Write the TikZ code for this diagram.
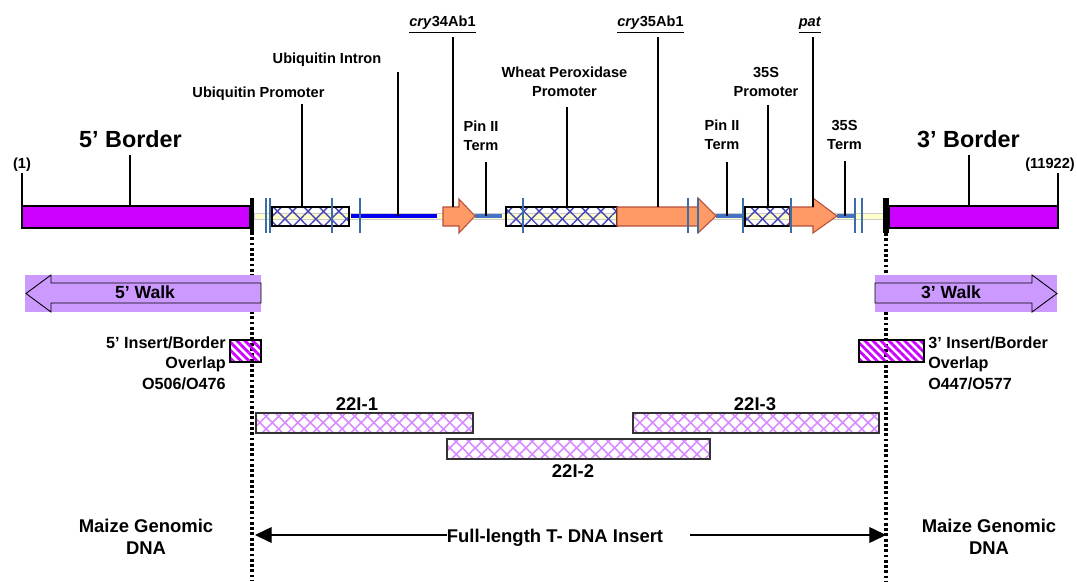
\documentclass[tikz,border=0pt]{standalone}
\usepackage{fontspec}
\setmainfont{Liberation Sans}
\usetikzlibrary{arrows.meta,patterns.meta}

\definecolor{bordermag}{HTML}{CC00FF}
\definecolor{walkfill}{HTML}{CC99FF}
\definecolor{genefill}{HTML}{FF9966}
\definecolor{genedraw}{HTML}{B5503C}
\definecolor{tickblue}{HTML}{3A6EA5}
\definecolor{intronblue}{HTML}{0000F0}
\definecolor{termblue}{HTML}{4472C4}
\definecolor{promhatch}{HTML}{4646B4}
\definecolor{pcrhatch}{HTML}{D88AFF}
\definecolor{backbone}{HTML}{FFFFCC}

\tikzset{
  lbl/.style={font=\bfseries\fontsize{8.3}{10.8}\selectfont, inner sep=0pt, align=center},
  lblbig/.style={font=\bfseries\fontsize{13.3}{16}\selectfont, inner sep=0pt},
  lblwalk/.style={font=\bfseries\fontsize{10}{12}\selectfont, inner sep=0pt},
  lblmid/.style={font=\bfseries\fontsize{10.5}{12.5}\selectfont, inner sep=0pt, align=center},
  lblovl/.style={font=\bfseries\fontsize{9.2}{11.9}\selectfont, inner sep=0pt},
  pin/.style={line width=0.75pt},
  tickmark/.style={tickblue, line width=1.4pt},
  border/.style={draw, line width=1.1pt, fill=bordermag},
  gene/.style={draw=genedraw, line width=0.6pt, fill=genefill},
  xhatch/.style n args={3}{preaction={pattern={Lines[angle=45,distance=#2,line width=#3]}, pattern color=#1},
    pattern={Lines[angle=-45,distance=#2,line width=#3]}, pattern color=#1},
  promoter/.style={draw, line width=0.7pt, xhatch={promhatch}{6.2pt}{0.8pt}},
  pcrbar/.style={draw=black!80, line width=0.7pt, xhatch={pcrhatch}{5.1pt}{0.9pt}},
  overlap/.style={draw, line width=0.7pt, pattern={Lines[angle=-45,distance=3.2pt,line width=1.6pt]}, pattern color=bordermag},
  walkarrow/.style={draw, line width=0.5pt, fill=walkfill},
  dotline/.style={line width=1.8pt, dash pattern=on 1.6pt off 1.4pt},
  insarrow/.style={-{Triangle[length=9.5pt,width=9pt]}, line width=0.6pt},
}

\begin{document}
\begin{tikzpicture}[x=0.02cm, y=-0.02cm]
\useasboundingbox (0,0) rectangle (1077,581);

% dotted insert limits
\coordinate (dotL) at (252,232);
\coordinate (dotR) at (886,233);
\coordinate (botL) at (252,581);
\coordinate (botR) at (886,581);
\draw[dotline] (dotL) -- (botL);
\draw[dotline] (dotR) -- (botR);

% backbone and borders
\draw[fill=backbone, draw=black!20, line width=0.4pt] (254,213) rectangle (883,219);
\draw[border] (22,206) rectangle (250,228);
\draw[border] (889,206) rectangle (1058,228);
\fill (250,198) rectangle (254,232);
\fill (883,198) rectangle (889,233);

% promoters
\draw[promoter] (272,207) rectangle (349,226);
\draw[promoter] (506,207) rectangle (617,226);
\draw[promoter] (745,207) rectangle (790,226);

% intron and terminators
\draw[intronblue, line width=1.8pt] (351,216) -- (437,216);
\draw[termblue, line width=1.9pt] (475,216) -- (502,216);
\draw[termblue, line width=1.9pt] (716,216) -- (743,216);
\draw[termblue, line width=1.9pt] (837,216) -- (855,216);

% genes
\draw[gene] (443,207) -- (459,207) -- (459,199) -- (475,216) -- (459,233) -- (459,226) -- (443,226) -- cycle;
\draw[gene] (617,207) -- (698,207) -- (698,198) -- (716,216) -- (698,233) -- (698,226) -- (617,226) -- cycle;
\draw[gene] (790,207) -- (813,207) -- (813,198) -- (837,216) -- (813,233) -- (813,226) -- (790,226) -- cycle;

% cut sites
\foreach \x in {266,270,332,360,523,688,698,743,791,855,862}
  \draw[tickmark] (\x,198) -- (\x,233);

% map labels
\node[lbl, anchor=base] (lblStart) at (22,168) {(1)};
\node[lblbig, anchor=base] (lblB5) at (130.5,147) {5’ Border};
\node[lbl, anchor=base] (lblUbiP) at (258.5,97) {Ubiquitin Promoter};
\node[lbl, anchor=base] (lblUbiI) at (327,64) {Ubiquitin Intron};
\node[lbl, anchor=base] (lblCry34) at (442.5,27) {\underline{\textit{cry}34Ab1}};
\node[lbl, anchor=north] (lblPin1) at (481,121) {Pin II\\Term};
\node[lbl, anchor=north] (lblWheat) at (564.5,67) {Wheat Peroxidase\\Promoter};
\node[lbl, anchor=base] (lblCry35) at (650.5,27) {\underline{\textit{cry}35Ab1}};
\node[lbl, anchor=north] (lblPin2) at (722,120) {Pin II\\Term};
\node[lbl, anchor=north] (lblP35S) at (766,67) {35S\\Promoter};
\node[lbl, anchor=base] (lblPat) at (810,27) {\underline{\textit{pat}}};
\node[lbl, anchor=north] (lblT35S) at (844.5,120) {35S\\Term};
\node[lblbig, anchor=base] (lblB3) at (968.5,147) {3’ Border};
\node[lbl, anchor=base] (lblEnd) at (1050,168) {(11922)};

% pin feet
\coordinate (fStart) at (22,206);
\coordinate (fB5) at (130,206);
\coordinate (fUbiP) at (302,207);
\coordinate (fUbiI) at (398,216);
\coordinate (fCry34) at (453,207);
\coordinate (fPin1) at (486,216);
\coordinate (fWheat) at (567,207);
\coordinate (fCry35) at (658,207);
\coordinate (fPin2) at (727,216);
\coordinate (fP35S) at (768,207);
\coordinate (fPat) at (813,207);
\coordinate (fT35S) at (845,216);
\coordinate (fB3) at (969,206);
\coordinate (fEnd) at (1058,206);

\draw[pin, shorten <=1pt] (lblStart.south -| fStart) -- (fStart);
\draw[pin, shorten <=4.5pt] (lblB5.south -| fB5) -- (fB5);
\draw[pin, shorten <=2.3pt] (lblUbiP.south -| fUbiP) -- (fUbiP);
\draw[pin, shorten <=2.8pt] (lblUbiI.south -| fUbiI) -- (fUbiI);
\draw[pin, shorten <=2pt] (lblCry34.south -| fCry34) -- (fCry34);
\draw[pin, shorten <=6.2pt] (lblPin1.south -| fPin1) -- (fPin1);
\draw[pin, shorten <=5.7pt] (lblWheat.south -| fWheat) -- (fWheat);
\draw[pin, shorten <=2pt] (lblCry35.south -| fCry35) -- (fCry35);
\draw[pin, shorten <=6.5pt] (lblPin2.south -| fPin2) -- (fPin2);
\draw[pin, shorten <=4.5pt] (lblP35S.south -| fP35S) -- (fP35S);
\draw[pin, shorten <=2pt] (lblPat.south -| fPat) -- (fPat);
\draw[pin, shorten <=6.5pt] (lblT35S.south -| fT35S) -- (fT35S);
\draw[pin, shorten <=4pt] (lblB3.south -| fB3) -- (fB3);
\draw[pin, shorten <=1pt] (lblEnd.south -| fEnd) -- (fEnd);

% genome walks
\fill[walkfill] (25,275) rectangle (261,312);
\draw[walkarrow] (261,283) -- (51,283) -- (51,275) -- (26,293.5) -- (51,312) -- (51,303) -- (261,303) -- cycle;
\node[lblwalk, anchor=base] (walk5) at (145,298) {5’ Walk};
\fill[walkfill] (875,275) rectangle (1057,312);
\draw[walkarrow] (875,283) -- (1032,283) -- (1032,275) -- (1057,293.5) -- (1032,312) -- (1032,303) -- (875,303) -- cycle;
\node[lblwalk, anchor=base] (walk3) at (951,298) {3’ Walk};

% insert/border overlaps
\draw[overlap] (230,340) rectangle (261,362);
\node[lblovl, anchor=north east, align=right] (ovl5) at (226,336) {5’ Insert/Border\\Overlap\\O506/O476};
\draw[overlap] (859,340) rectangle (924,362);
\node[lblovl, anchor=north west, align=left] (ovl3) at (928,336) {3’ Insert/Border\\Overlap\\O447/O577};

% PCR fragments
\draw[pcrbar] (256,413) rectangle (473,433);
\node[lblmid, anchor=base] (lblP1) at (357,410) {22I-1};
\draw[pcrbar] (633,413) rectangle (879,433);
\node[lblmid, anchor=base] (lblP3) at (755,410) {22I-3};
\draw[pcrbar] (447,439) rectangle (710,459);
\node[lblmid, anchor=base] (lblP2) at (573,477) {22I-2};

% flanking DNA and insert
\node[lblmid, anchor=north] (maize5) at (146,518.5) {Maize Genomic\\DNA};
\node[lblmid, anchor=north] (maize3) at (989,518.5) {Maize Genomic\\DNA};
\node[lblmid, anchor=base] (fullins) at (555,542.6) {Full-length T- DNA Insert};
\coordinate (insL) at (255,535);
\coordinate (insR) at (886,535);
\draw[insarrow] (fullins.west |- insL) -- (insL);
\draw[insarrow, shorten <=15pt] (fullins.east |- insR) -- (insR);

\end{tikzpicture}
\end{document}
